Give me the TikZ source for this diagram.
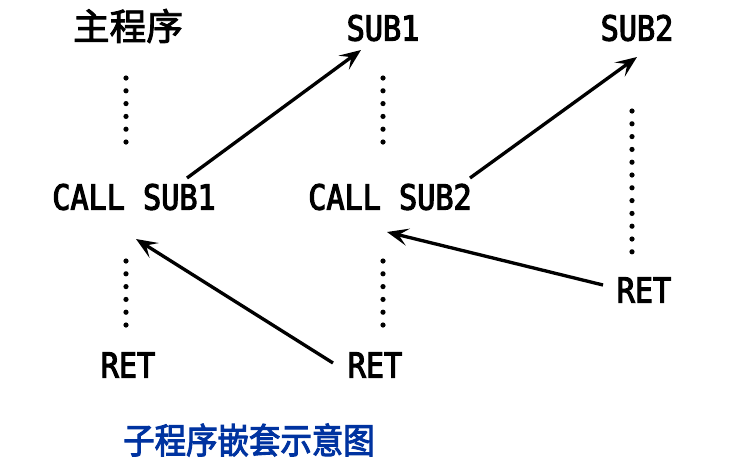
\documentclass[tikz,border=0pt]{standalone}
\usepackage{fontspec}
\usetikzlibrary{arrows.meta}
\newfontfamily\cjkb[FakeBold=2.5]{Noto Sans CJK SC}
\newfontfamily\cjkc[FakeBold=2.8,FakeStretch=0.89]{Noto Sans CJK SC}
\newfontfamily\monof[FakeStretch=0.87,FakeBold=3.2]{DejaVu Sans Mono}
\definecolor{capblue}{RGB}{0,51,160}
\begin{document}
\begin{tikzpicture}[x=0.75pt,y=-0.75pt,
  code/.style={inner sep=0pt,font=\monof\fontsize{26pt}{28pt}\selectfont},
  cjk/.style={inner sep=0pt,font=\cjkb\fontsize{27.5pt}{30pt}\selectfont},
  link/.style={line width=2.5pt,-{Stealth[length=16pt,width=13pt,inset=7pt]}},
  dot/.style={fill=black}]
\useasboundingbox (0,0) rectangle (730,469);
% labels
\node[cjk] (main) at (128,26) {主程序};
\node[code] (call1) at (134,197) {CALL SUB1};
\node[code] (ret1) at (128,365) {RET};
\node[code] (sub1) at (383,28) {SUB1};
\node[code] (call2) at (390,197) {CALL SUB2};
\node[code] (ret2) at (375,365) {RET};
\node[code] (sub2) at (637,28) {SUB2};
\node[code] (ret3) at (644,290) {RET};
\node[cjk,text=capblue,font=\cjkc\fontsize{26.5pt}{28pt}\selectfont] (cap) at (249,440) {子程序嵌套示意图};
% dots
\foreach \i in {0,...,5}{
  \fill[dot] (126,78+12.8*\i) circle (2.6);
  \fill[dot] (383,78+12.8*\i) circle (2.6);
  \fill[dot] (126,261+12.8*\i) circle (2.6);
  \fill[dot] (383,261+12.8*\i) circle (2.6);
}
\foreach \i in {0,...,11}{
  \fill[dot] (632,111+12.8*\i) circle (2.6);
}
% connector endpoints
\coordinate (a1s) at (187,178);
\coordinate (a1e) at (361,50);
\coordinate (a2s) at (470,178);
\coordinate (a2e) at (637,57);
\coordinate (a3s) at (603,285);
\coordinate (a3e) at (387,232);
\coordinate (a4s) at (333,363);
\coordinate (a4e) at (136,239);
\draw[link] (a1s) -- (a1e);
\draw[link] (a2s) -- (a2e);
\draw[link] (a3s) -- (a3e);
\draw[link] (a4s) -- (a4e);
\end{tikzpicture}
\end{document}
